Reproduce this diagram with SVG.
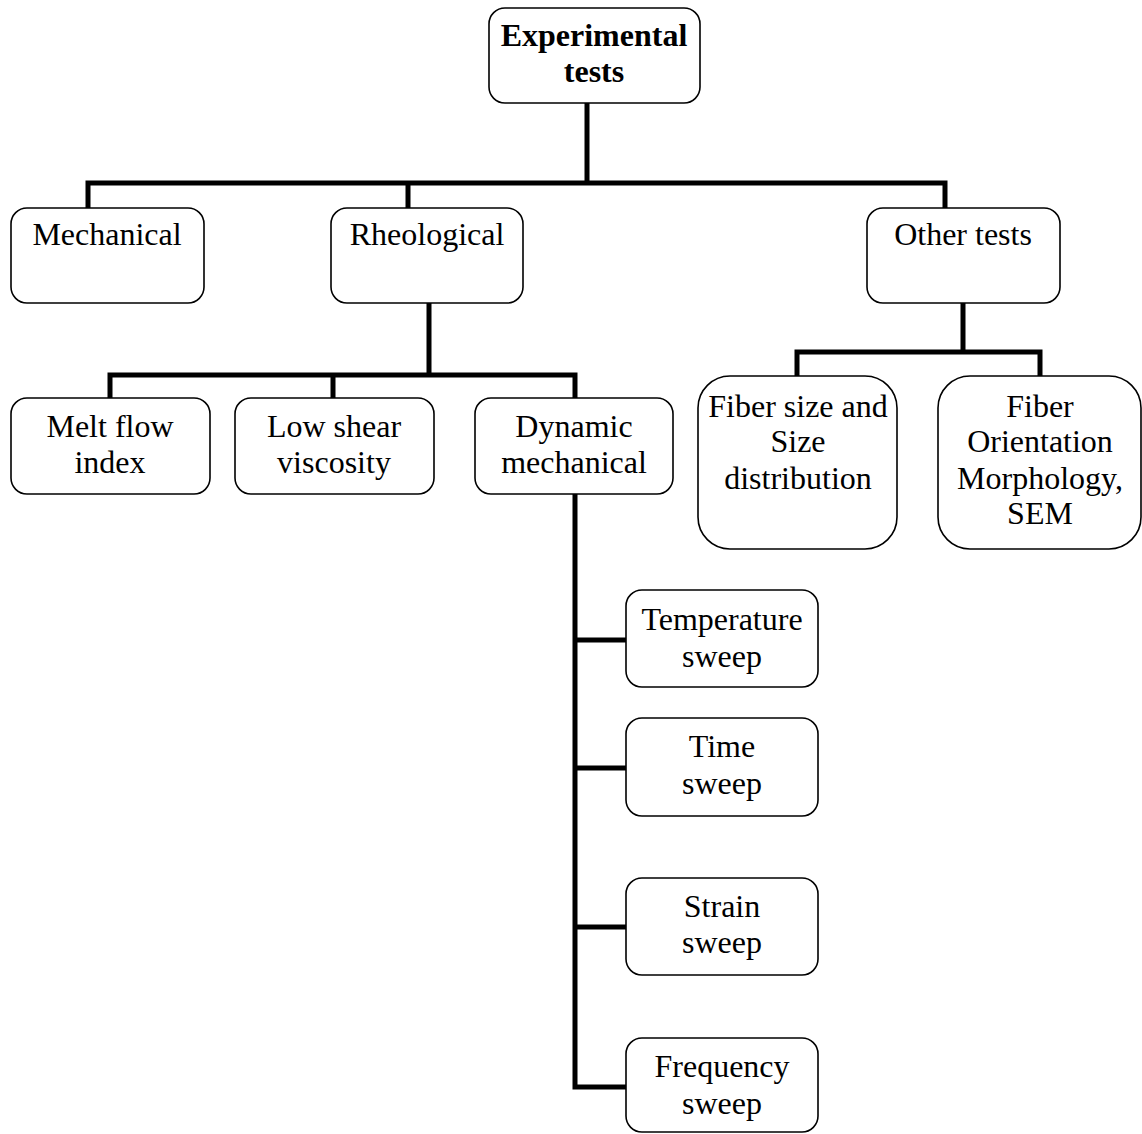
<svg xmlns="http://www.w3.org/2000/svg" width="1142" height="1134" viewBox="0 0 1142 1134">
<style>
.box{fill:#fff;stroke:#000;stroke-width:1.6}
.t{font-family:"Liberation Serif","Times New Roman",serif;font-size:32px;fill:#000;text-anchor:middle}
.b{font-weight:bold}
.c{fill:none;stroke:#000;stroke-width:5;stroke-linecap:square;stroke-linejoin:miter}
</style>
<rect width="1142" height="1134" fill="#fff"/>
<g id="connectors">
<path class="c" d="M587 103V183M88 208V183H945V208M408 183V208"/>
<path class="c" d="M429 303V375M110 398V375H575V398M333 375V398"/>
<path class="c" d="M963 303V352M797 376V352H1040V376"/>
<path class="c" d="M575 494V1087H626M575 640H626M575 768H626M575 927H626"/>
</g>
<g id="experimental-tests"><rect class="box" x="489" y="8" width="211" height="95" rx="16"/><text class="t b" x="594" y="46">Experimental</text><text class="t b" x="594" y="82">tests</text></g>
<g id="mechanical"><rect class="box" x="11" y="208" width="193" height="95" rx="16"/><text class="t" x="107" y="245">Mechanical</text></g>
<g id="rheological"><rect class="box" x="331" y="208" width="192" height="95" rx="16"/><text class="t" x="427" y="245">Rheological</text></g>
<g id="other-tests"><rect class="box" x="867" y="208" width="193" height="95" rx="16"/><text class="t" x="963" y="245">Other tests</text></g>
<g id="melt-flow-index"><rect class="box" x="11" y="398" width="199" height="96" rx="16"/><text class="t" x="110" y="437">Melt flow</text><text class="t" x="110" y="473">index</text></g>
<g id="low-shear-viscosity"><rect class="box" x="235" y="398" width="199" height="96" rx="16"/><text class="t" x="334" y="437">Low shear</text><text class="t" x="334" y="473">viscosity</text></g>
<g id="dynamic-mechanical"><rect class="box" x="475" y="398" width="198" height="96" rx="16"/><text class="t" x="574" y="437">Dynamic</text><text class="t" x="574" y="473">mechanical</text></g>
<g id="fiber-size"><rect class="box" x="698" y="376" width="199" height="173" rx="32"/><text class="t" x="798" y="417">Fiber size and</text><text class="t" x="798" y="452">Size</text><text class="t" x="798" y="489">distribution</text></g>
<g id="fiber-orientation"><rect class="box" x="938" y="376" width="203" height="173" rx="32"/><text class="t" x="1040" y="417">Fiber</text><text class="t" x="1040" y="452">Orientation</text><text class="t" x="1040" y="489">Morphology,</text><text class="t" x="1040" y="524">SEM</text></g>
<g id="temperature-sweep"><rect class="box" x="626" y="590" width="192" height="97" rx="16"/><text class="t" x="722" y="630">Temperature</text><text class="t" x="722" y="667">sweep</text></g>
<g id="time-sweep"><rect class="box" x="626" y="718" width="192" height="98" rx="16"/><text class="t" x="722" y="757">Time</text><text class="t" x="722" y="794">sweep</text></g>
<g id="strain-sweep"><rect class="box" x="626" y="878" width="192" height="97" rx="16"/><text class="t" x="722" y="917">Strain</text><text class="t" x="722" y="953">sweep</text></g>
<g id="frequency-sweep"><rect class="box" x="626" y="1038" width="192" height="94" rx="16"/><text class="t" x="722" y="1077">Frequency</text><text class="t" x="722" y="1114">sweep</text></g>
</svg>
